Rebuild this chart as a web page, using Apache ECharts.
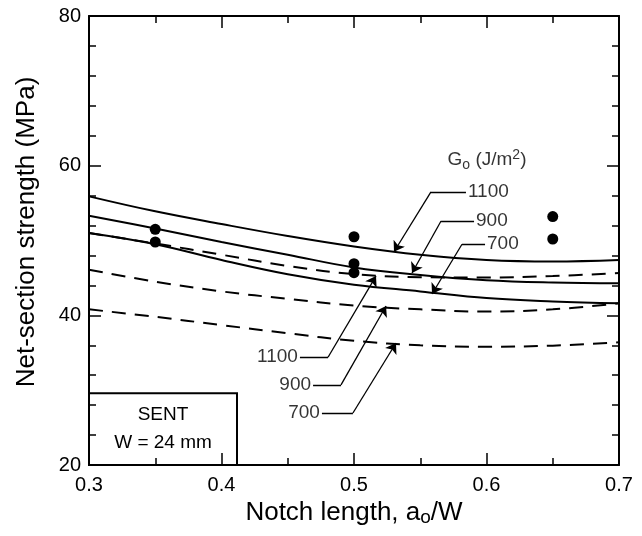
<!DOCTYPE html>
<html>
<head>
<meta charset="utf-8">
<script src="https://cdn.jsdelivr.net/npm/echarts@6/dist/echarts.min.js"></script>
<style>
  html, body { margin: 0; padding: 0; background: #fff; }
  #chart { width: 642px; height: 536px; }
</style>
</head>
<body>
<div id="chart"></div>
<script>
// notch length a0/W
const xs = [0.30, 0.35, 0.40, 0.45, 0.50, 0.55, 0.60, 0.65, 0.70]
// solid curves
const solid1100 = [55.9, 53.9, 52.2, 50.6, 49.2, 48.1, 47.4, 47.2, 47.4]
const solid900 = [53.3, 51.6, 49.8, 48.1, 46.4, 45.4, 44.7, 44.4, 44.3]
const solid700 = [51.0, 49.5, 47.4, 45.5, 44.1, 43.2, 42.3, 41.85, 41.6]
// dashed curves
const dash1100 = [51.0, 49.6, 48.1, 46.6, 45.5, 45.1, 45.05, 45.25, 45.65]
const dash900 = [46.1, 44.5, 43.2, 42.2, 41.3, 40.8, 40.5, 40.8, 41.6]
const dash700 = [40.8, 39.8, 38.7, 37.6, 36.6, 36.0, 35.8, 35.95, 36.4]
// measured points
const dotsX = [0.35, 0.35, 0.50, 0.50, 0.50, 0.65, 0.65]
const dotsY = [51.5, 49.8, 50.5, 46.9, 45.7, 53.2, 50.2]
// leader lines: [label end, elbow, arrow tip]
const leaderNames = ['1100', '900', '700', '1100', '900', '700']
const leaderSide = ['right', 'right', 'right', 'left', 'left', 'left']
const leaders = [
  [[0.5845, 56.5], [0.5581, 56.5], [0.5302, 48.5]],
  [[0.5906, 52.6], [0.5657, 52.6], [0.5438, 45.65]],
  [[0.5989, 49.5], [0.5815, 49.5], [0.5589, 42.85]],
  [[0.4592, 34.4], [0.4804, 34.4], [0.5166, 45.25]],
  [[0.4691, 30.7], [0.4902, 30.7], [0.5242, 41.25]],
  [[0.4758, 26.95], [0.4992, 26.95], [0.5317, 36.3]]
]
const legendTitlePos = [0.6004, 60.8]
const sentBox = [[0.3, 20], [0.4117, 29.6]]

const FONT = '"Liberation Sans", Arial, Helvetica, sans-serif'
const pair = (a) => xs.map((x, i) => [x, a[i]])

function curve(data, dashed) {
  return {
    type: 'line',
    data: pair(data),
    smooth: 0.4,
    symbol: 'none',
    silent: true,
    lineStyle: { color: '#000', width: 2, type: dashed ? [14, 9] : 'solid' }
  }
}

const axisCommon = {
  type: 'value',
  axisLine: { show: true, onZero: false, lineStyle: { color: '#000', width: 2 } },
  axisTick: { show: true, inside: true, length: 12, lineStyle: { color: '#000', width: 1.5 } },
  minorTick: { show: true, length: 7, lineStyle: { color: '#000', width: 1.5 } },
  splitLine: { show: false },
  minorSplitLine: { show: false }
}

const leaderLine = { color: '#000', width: 1.3, opacity: 1 }

const chart = echarts.init(document.getElementById('chart'), null, { renderer: 'canvas' })

chart.setOption({
  animation: false,
  backgroundColor: '#fff',
  textStyle: { fontFamily: FONT, color: '#000' },
  grid: { left: 89, right: 23, top: 16, bottom: 71, containLabel: false, outerBoundsMode: 'none' },
  xAxis: [
    Object.assign({}, axisCommon, {
      min: 0.3, max: 0.7, interval: 0.1,
      minorTick: Object.assign({}, axisCommon.minorTick, { splitNumber: 2 }),
      axisLabel: { color: '#000', fontSize: 20, fontFamily: FONT, margin: 10, formatter: (v) => v.toFixed(1) },
      name: 'Notch length, a{sub|o}/W',
      nameLocation: 'middle',
      nameGap: 27,
      nameTextStyle: {
        color: '#000', fontSize: 26, fontFamily: FONT,
        rich: { sub: { fontSize: 19, fontFamily: FONT, color: '#000', padding: [10, 0, 0, 0] } }
      }
    }),
    Object.assign({}, axisCommon, {
      position: 'top',
      min: 0.3, max: 0.7, interval: 0.1,
      minorTick: Object.assign({}, axisCommon.minorTick, { splitNumber: 2 }),
      axisLabel: { show: false }
    })
  ],
  yAxis: [
    Object.assign({}, axisCommon, {
      min: 20, max: 80, interval: 20,
      minorTick: Object.assign({}, axisCommon.minorTick, { splitNumber: 5 }),
      axisLabel: { color: '#000', fontSize: 20, fontFamily: FONT, margin: 8 },
      name: 'Net-section strength (MPa)',
      nameLocation: 'middle',
      nameGap: 49,
      nameTextStyle: { color: '#000', fontSize: 26, fontFamily: FONT, padding: [0, 0, 0, 17] }
    }),
    Object.assign({}, axisCommon, {
      position: 'right',
      min: 20, max: 80, interval: 20,
      minorTick: Object.assign({}, axisCommon.minorTick, { splitNumber: 5 }),
      axisLabel: { show: false }
    })
  ],
  series: [
    curve(solid1100, false),
    curve(solid900, false),
    curve(solid700, false),
    curve(dash1100, true),
    curve(dash900, true),
    curve(dash700, true),
    {
      type: 'scatter',
      data: dotsX.map((x, i) => [x, dotsY[i]]),
      symbol: 'circle',
      symbolSize: 11,
      itemStyle: { color: '#000', opacity: 1 },
      silent: true,
      markArea: {
        silent: true,
        itemStyle: { color: 'rgba(0,0,0,0)', borderColor: '#000', borderWidth: 2 },
        label: {
          show: true, position: 'inside', color: '#000', fontSize: 19, fontFamily: FONT,
          lineHeight: 28, align: 'center', formatter: 'SENT\nW = 24 mm'
        },
        data: [[{ coord: sentBox[0] }, { coord: sentBox[1] }]]
      }
    },
    {
      // horizontal part of each leader
      type: 'lines',
      coordinateSystem: 'cartesian2d',
      silent: true,
      symbol: 'none',
      lineStyle: leaderLine,
      data: leaders.map((c) => ({ coords: [c[0], c[1]] }))
    },
    {
      // slanted part ending in an arrow
      type: 'lines',
      coordinateSystem: 'cartesian2d',
      silent: true,
      symbol: ['none', 'arrow'],
      symbolSize: 10,
      lineStyle: leaderLine,
      data: leaders.map((c) => ({ coords: [c[1], c[2]] }))
    },
    {
      type: 'scatter',
      silent: true,
      symbolSize: 0,
      itemStyle: { color: 'rgba(0,0,0,0)' },
      label: { show: true, color: '#000', fontSize: 19, fontFamily: FONT, distance: 2, formatter: (p) => p.name },
      data: leaders.map((c, i) => ({ name: leaderNames[i], value: c[0], label: { position: leaderSide[i] } })).concat([{
        name: 'G{sub|o} (J/m{sup|2})',
        value: legendTitlePos,
        label: {
          position: 'inside',
          fontSize: 19,
          rich: {
            sub: { fontSize: 14, fontFamily: FONT, color: '#000', padding: [11, 0, 0, 0] },
            sup: { fontSize: 14, fontFamily: FONT, color: '#000', padding: [0, 0, 10, 0] }
          }
        }
      }])
    }
  ]
})
</script>
</body>
</html>
